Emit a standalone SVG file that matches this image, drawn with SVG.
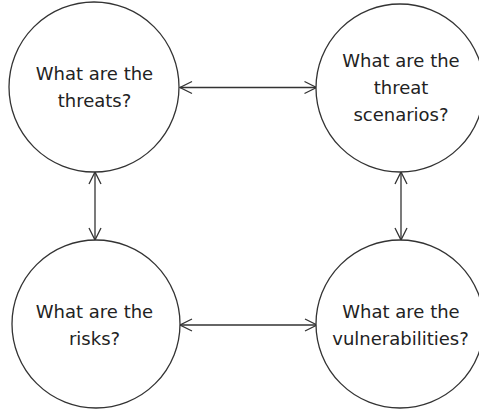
<svg xmlns="http://www.w3.org/2000/svg" width="479" height="412" viewBox="0 0 479 412">
  <style>
    .node { fill: #ffffff; stroke: #333333; stroke-width: 1.3; }
    .label { font-family: "DejaVu Sans", "Liberation Sans", sans-serif; font-size: 18px; fill: #222222; text-anchor: middle; }
    .link { fill: none; stroke: #333333; stroke-width: 1.3; marker-start: url(#arrow); marker-end: url(#arrow); }
  </style>
  <defs>
    <marker id="arrow" markerUnits="userSpaceOnUse" markerWidth="16" markerHeight="16" viewBox="-14 -8 16 16" refX="0" refY="0" orient="auto-start-reverse">
      <path d="M -12 -6 L 0 0 L -12 6" fill="none" stroke="#333333" stroke-width="1.3"/>
    </marker>
  </defs>
  <rect width="479" height="412" fill="#ffffff"/>

  <g id="connectors">
    <line class="link" x1="180" y1="87.5" x2="316.5" y2="87.5"/>
    <line class="link" x1="180" y1="325" x2="317" y2="325"/>
    <line class="link" x1="95" y1="172" x2="95" y2="240"/>
    <line class="link" x1="401" y1="172" x2="401" y2="240"/>
  </g>

  <g id="threats">
    <circle class="node" cx="94" cy="87" r="85"/>
    <text class="label" x="94.5" y="80">What are the</text>
    <text class="label" x="94.5" y="107">threats?</text>
  </g>

  <g id="threat-scenarios">
    <circle class="node" cx="400" cy="88" r="84"/>
    <text class="label" x="401" y="67">What are the</text>
    <text class="label" x="401" y="94">threat</text>
    <text class="label" x="401" y="121">scenarios?</text>
  </g>

  <g id="risks">
    <circle class="node" cx="96" cy="324" r="84"/>
    <text class="label" x="94.5" y="318">What are the</text>
    <text class="label" x="94.5" y="345">risks?</text>
  </g>

  <g id="vulnerabilities">
    <circle class="node" cx="400" cy="324" r="84"/>
    <text class="label" x="401" y="318">What are the</text>
    <text class="label" x="400.5" y="345">vulnerabilities?</text>
  </g>
</svg>
